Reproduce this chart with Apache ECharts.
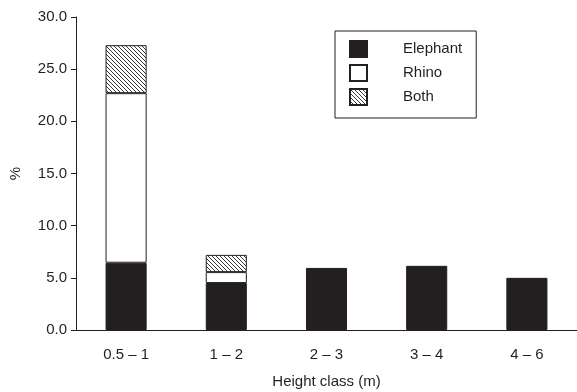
<!DOCTYPE html>
<html><head><meta charset="utf-8">
<script src="https://cdn.jsdelivr.net/npm/echarts@6/dist/echarts.min.js"></script>
<style>html,body{margin:0;padding:0;background:#fff}#c{width:577px;height:392px}</style>
</head><body><div id="c"></div>
<script>
const categories = ['0.5 \u2013 1', '1 \u2013 2', '2 \u2013 3', '3 \u2013 4', '4 \u2013 6'];
const elephant = [6.45, 4.5, 5.95, 6.15, 5.0];
const rhino = [16.25, 1.05, 0, 0, 0];
const both = [4.6, 1.65, 0, 0, 0];
const yTicks = [0, 5, 10, 15, 20, 25, 30];

const ink = '#231f20';
const cv = document.createElement('canvas');
cv.width = 4; cv.height = 4;
const g = cv.getContext('2d');
g.fillStyle = '#fff'; g.fillRect(0, 0, 4, 4);
g.strokeStyle = ink; g.lineWidth = 0.9;
g.beginPath();
g.moveTo(-1, -1); g.lineTo(5, 5);
g.moveTo(-1, 3); g.lineTo(1, 5);
g.moveTo(3, -1); g.lineTo(5, 1);
g.stroke();

const font = "'Liberation Sans', Arial, sans-serif";
const chart = echarts.init(document.getElementById('c'), null, {renderer: 'canvas'});
const mk = (name, data, color) => ({
  name, type: 'bar', stack: 's', data: data.map(v => v === 0 ? null : v),
  barWidth: '41%',
  itemStyle: {color, borderColor: ink, borderWidth: 1},
  emphasis: {disabled: true}
});
chart.setOption({
  animation: false,
  grid: {left: 76, right: 0, top: 17, bottom: 62, containLabel: false, outerBoundsMode: 'none'},
  legend: {
    orient: 'vertical', left: 335, top: 31,
    padding: [9, 14, 12, 14],
    icon: 'rect',
    itemWidth: 17, itemHeight: 16, itemGap: 6,
    borderColor: ink, borderWidth: 1,
    textStyle: {fontFamily: font, fontSize: 15, color: ink, padding: [0, 0, 0, 31]},
    data: ['Elephant', 'Rhino', 'Both']
  },
  xAxis: {
    type: 'category', data: categories,
    name: 'Height class (m)', nameLocation: 'middle', nameGap: 44,
    nameTextStyle: {fontFamily: font, fontSize: 15, color: ink},
    axisLine: {lineStyle: {color: ink, width: 1}},
    axisTick: {length: 5, lineStyle: {color: ink}},
    axisLabel: {fontFamily: font, fontSize: 15, color: ink, margin: 17}
  },
  yAxis: {
    type: 'value', min: yTicks[0], max: yTicks[yTicks.length - 1], interval: 5,
    name: '%', nameLocation: 'middle', nameGap: 53,
    nameTextStyle: {fontFamily: font, fontSize: 15, color: ink},
    axisLine: {show: true, lineStyle: {color: ink, width: 1}},
    axisTick: {show: true, length: 5, lineStyle: {color: ink}},
    splitLine: {show: false},
    axisLabel: {fontFamily: font, fontSize: 15, color: ink, margin: 9,
      formatter: v => v.toFixed(1)}
  },
  series: [
    mk('Elephant', elephant, ink),
    mk('Rhino', rhino, '#ffffff'),
    mk('Both', both, {image: cv, repeat: 'repeat'})
  ]
});
</script></body></html>
